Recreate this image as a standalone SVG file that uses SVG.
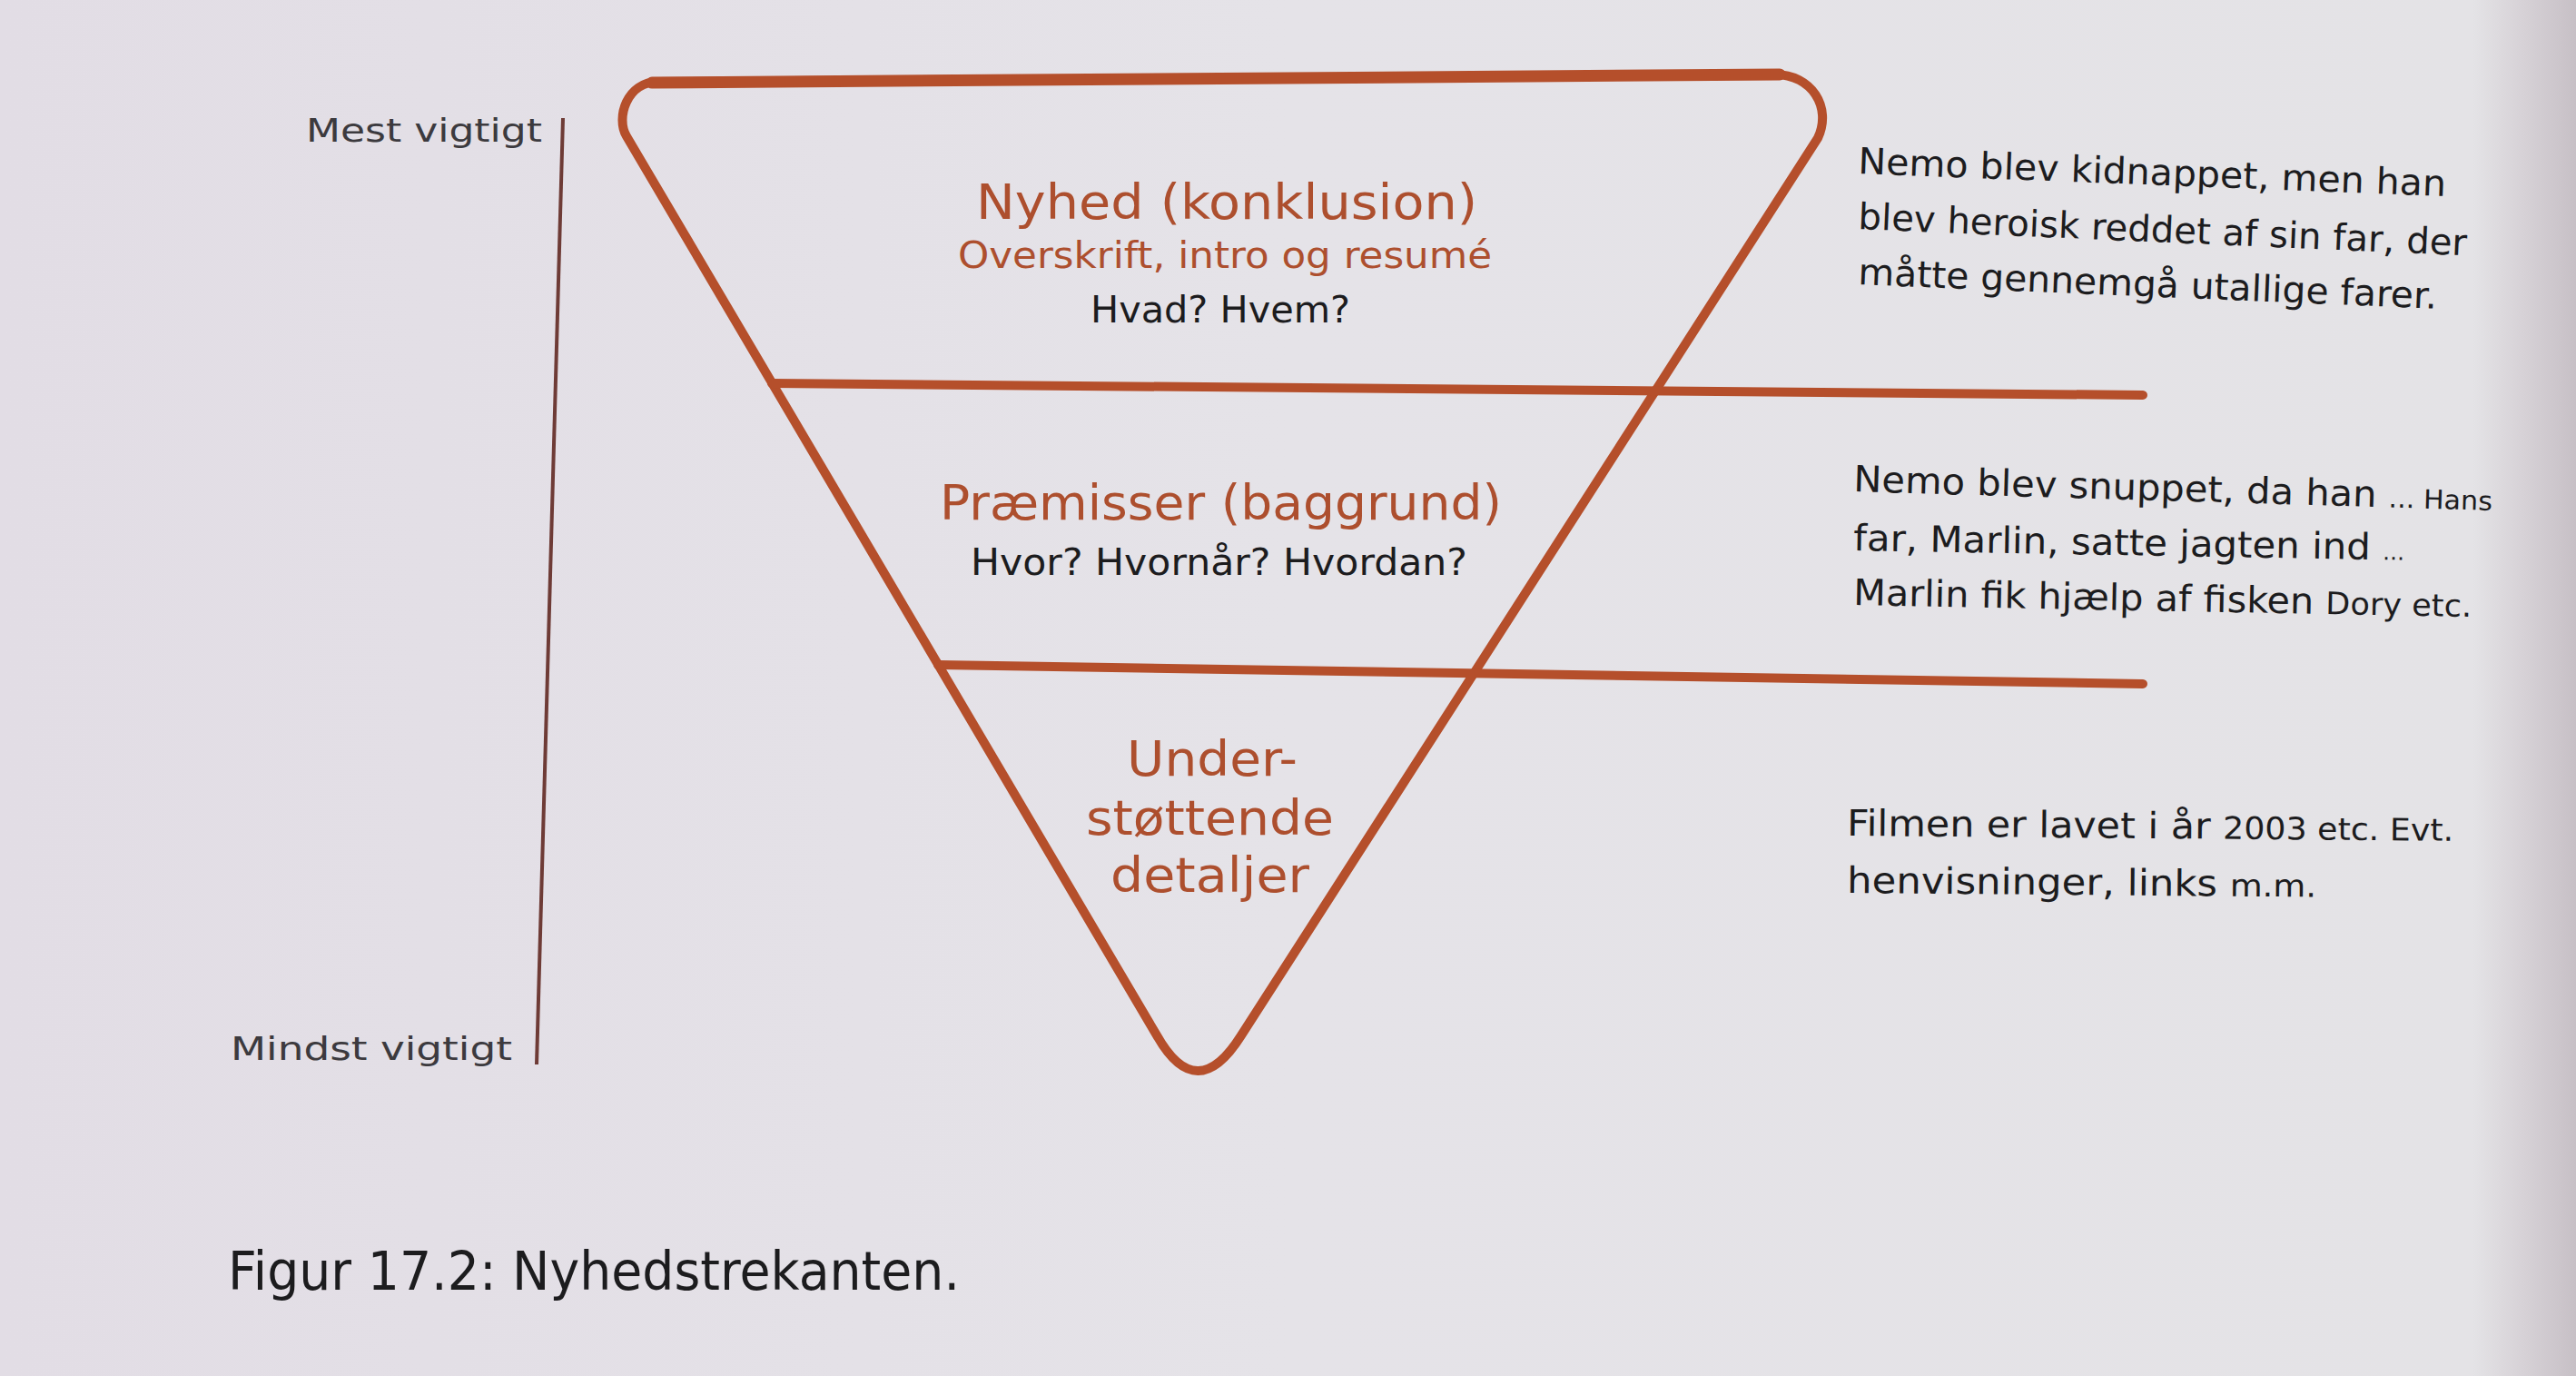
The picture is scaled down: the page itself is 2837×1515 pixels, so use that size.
<svg xmlns="http://www.w3.org/2000/svg" width="2837" height="1515" viewBox="0 0 2837 1515">
<defs>
<linearGradient id="bg" x1="0" y1="0" x2="1" y2="0">
<stop offset="0" stop-color="#e2dde5"/>
<stop offset="0.5" stop-color="#e5e3e8"/>
<stop offset="0.96" stop-color="#e4e3e6"/>
<stop offset="0.98" stop-color="#d6d1d6"/>
<stop offset="1" stop-color="#c7c0c6"/>
</linearGradient>
<style>
.t{font-family:"DejaVu Sans","Liberation Sans",sans-serif}
.or{fill:#ad4f2e}
.bk{fill:#1c1c1e}
.gr{fill:#3c3a3e}
.ln{stroke:#b54f2b;fill:none;stroke-linecap:round;stroke-linejoin:round}
</style>
</defs>
<rect x="0" y="0" width="2837" height="1515" fill="url(#bg)"/>

<g id="axis">
<line x1="620" y1="130" x2="591" y2="1172" stroke="#6e3b36" stroke-width="4"/>
<text class="t gr" x="337" y="156" font-size="36" textLength="260" lengthAdjust="spacingAndGlyphs">Mest vigtigt</text>
<text class="t gr" x="254" y="1167" font-size="36" textLength="310" lengthAdjust="spacingAndGlyphs">Mindst vigtigt</text>
</g>

<g id="triangle">
<path class="ln" stroke-width="10" d="M725,90 L1955,82 C1995,82 2018,118 2002,152 L1367,1140 Q1318,1218 1274,1140 L690,150 C678,130 690,90 725,90 Z"/>
<path class="ln" stroke-width="13" d="M718,91 L1960,82"/>
</g>

<g id="connectors">
<path class="ln" stroke-width="10" stroke-linecap="butt" d="M850,422 L2360,435"/>
<path class="ln" stroke-width="10" stroke-linecap="butt" d="M1033,732 L2360,753"/>
</g>

<g id="section-nyhed">
<text class="t or" x="1075" y="241" font-size="54" textLength="552" lengthAdjust="spacingAndGlyphs">Nyhed (konklusion)</text>
<text class="t or" x="1055" y="295" font-size="40" textLength="588" lengthAdjust="spacingAndGlyphs">Overskrift, intro og resumé</text>
<text class="t bk" x="1201" y="355" font-size="40" textLength="286" lengthAdjust="spacingAndGlyphs">Hvad? Hvem?</text>
</g>

<g id="section-praemisser">
<text class="t or" x="1035" y="572" font-size="54" textLength="619" lengthAdjust="spacingAndGlyphs">Præmisser (baggrund)</text>
<text class="t bk" x="1069" y="633" font-size="40" textLength="547" lengthAdjust="spacingAndGlyphs">Hvor? Hvornår? Hvordan?</text>
</g>

<g id="section-detaljer">
<text class="t or" x="1241" y="854" font-size="54" textLength="188" lengthAdjust="spacingAndGlyphs">Under-</text>
<text class="t or" x="1196" y="919" font-size="54" textLength="273" lengthAdjust="spacingAndGlyphs">støttende</text>
<text class="t or" x="1223" y="982" font-size="54" textLength="219" lengthAdjust="spacingAndGlyphs">detaljer</text>
</g>

<g id="example-nyhed">
<text class="t bk" x="2046" y="191" font-size="40" textLength="648" lengthAdjust="spacingAndGlyphs" transform="rotate(2.2 2046 191)">Nemo blev kidnappet, men han</text>
<text class="t bk" x="2046" y="252" font-size="40" textLength="671" lengthAdjust="spacingAndGlyphs" transform="rotate(2.5 2046 252)">blev heroisk reddet af sin far, der</text>
<text class="t bk" x="2046" y="313" font-size="40" textLength="638" lengthAdjust="spacingAndGlyphs" transform="rotate(2.4 2046 313)">måtte gennemgå utallige farer.</text>
</g>

<g id="example-praemisser">
<text class="t bk" x="2041" y="541" font-size="40" textLength="704" lengthAdjust="spacingAndGlyphs" transform="rotate(1.7 2041 541)">Nemo blev snuppet, da han <tspan font-size="29">... Hans</tspan></text>
<text class="t bk" x="2041" y="606" font-size="40" textLength="607" lengthAdjust="spacingAndGlyphs" transform="rotate(1 2041 606)">far, Marlin, satte jagten ind <tspan font-size="24">...</tspan></text>
<text class="t bk" x="2041" y="666" font-size="40" textLength="681" lengthAdjust="spacingAndGlyphs" transform="rotate(1.1 2041 666)">Marlin fik hjælp af fisken <tspan font-size="34">Dory etc.</tspan></text>
</g>

<g id="example-detaljer">
<text class="t bk" x="2034" y="920" font-size="40" textLength="668" lengthAdjust="spacingAndGlyphs" transform="rotate(0.5 2034 920)">Filmen er lavet i år <tspan font-size="34">2003 etc. Evt.</tspan></text>
<text class="t bk" x="2034" y="983" font-size="40" textLength="517" lengthAdjust="spacingAndGlyphs" transform="rotate(0.5 2034 983)">henvisninger, links <tspan font-size="34">m.m.</tspan></text>
</g>

<g id="caption">
<text class="t bk" x="251" y="1420" font-size="58" textLength="806" lengthAdjust="spacingAndGlyphs">Figur 17.2: Nyhedstrekanten.</text>
</g>
</svg>
